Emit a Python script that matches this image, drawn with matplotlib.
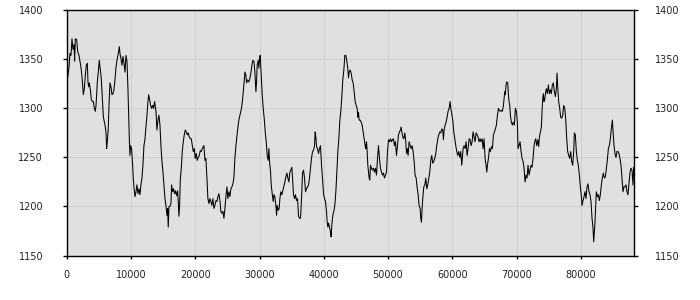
import matplotlib
matplotlib.use("Agg")
import matplotlib.pyplot as plt
import numpy as np

# ---- data ----
seg1_x = [0,150,360,510,670,820,980,1140,1240,1340,1550,1710,1910,2070,2220,2380,2480,2590,2740,2900,
          3050,3210,3310,3420,3520,3680,3830,3990,4140,4300,4450,4560,4660,4760,4920,5070,5180,5280,5390,5490,
          5590,5700,5800,5960,6110,6210,6320,6470,6580,6730,6890,7040,7200,7350,7510,7670,7820,7980,8190,8290,
          8440,8600,8750,8910,9070,9220,9380,9530,9640,9740,9840,9950,10100,10260,10360,10460,10620,10780,10930,11090,
          11240,11400,11550,11710,11860,12020,12180,12330,12490,12640,12750,12900,13060,13210,13370,13520,13680]
seg1_y = [1334,1331,1342,1356,1354,1371,1360,1365,1348,1371,1370,1358,1354,1348,1342,1332,1324,1314,1320,1334,
          1344,1346,1327,1322,1326,1319,1309,1307,1307,1300,1297,1303,1314,1327,1337,1349,1342,1337,1329,1317,
          1303,1292,1288,1283,1276,1259,1266,1280,1303,1326,1322,1314,1315,1319,1329,1342,1349,1354,1363,1356,
          1351,1344,1353,1346,1337,1354,1348,1320,1293,1269,1252,1262,1259,1242,1229,1220,1210,1215,1222,1213,
          1218,1212,1222,1229,1242,1262,1269,1280,1293,1307,1314,1309,1303,1300,1303,1300,1307]

seg2_x = [13890,14040,14200,14350,14510,14660,14820,14980,15130,15290,15440,15600,15700,15800,15910,16060,16220,16320,16480,16630,
          16790,16940,17100,17260,17360,17460,17570,17670,17830,17980,18140,18290,18450,18600,18760,18910,19070,19230,19380,19540,
          19690,19850,20000,20160,20310,20470,20630,20780,20940,21090,21250,21350,21510,21660,21820,21970,22130,22280,22440,22590,
          22750,22910,23060,23220,23370,23530,23680,23840,23990,24150,24300,24460,24620,24770,24930,25080,25240,25390,25550,25700,
          25860,26010,26170,26330,26480,26640,26790,26950,27100,27260,27410,27570,27730,27880,27980,28140,28300,28450]
seg2_y = [1297,1278,1288,1293,1283,1262,1246,1235,1222,1208,1201,1191,1198,1179,1200,1200,1203,1222,1215,1218,
          1213,1216,1211,1216,1205,1190,1201,1227,1239,1256,1266,1273,1278,1276,1273,1275,1271,1269,1269,1262,
          1256,1259,1249,1254,1247,1250,1252,1257,1256,1259,1261,1262,1247,1249,1229,1208,1203,1208,1205,1201,
          1208,1198,1201,1206,1205,1210,1213,1206,1195,1193,1195,1188,1198,1210,1220,1208,1215,1210,1218,1220,
          1223,1229,1249,1262,1271,1281,1288,1293,1297,1303,1312,1324,1337,1334,1326,1329,1327,1329]

seg3_x = [28660,28810,28970,29130,29280,29440,29540,29640,29800,29900,30010,30110,30210,30320,30420,30580,30730,30890,31040,31200,
          31350,31460,31560,31720,31820,31920,32030,32130,32240,32390,32550,32650,32750,32910,33060,33170,33320,33480,33630,33790,
          33950,34100,34260,34410,34570,34720,34880,35030,35140,35290,35450,35600,35760,35920,36070,36230,36380,36540,36690,36850,
          37000,37160,37310,37470,37630,37780,37940,38090,38250,38400,38560,38660,38770,38870,39030,39180,39340,39490,39650,39800,
          39960,40110,40270,40420,40530,40630,40740,40890,41050,41150,41250,41410,41560,41720,41880,42030,42190,42340,42500,42650,
          42810,42960,43120]
seg3_y = [1336,1344,1349,1348,1337,1317,1327,1344,1349,1341,1351,1354,1341,1327,1314,1300,1290,1276,1266,1252,
          1247,1259,1246,1235,1222,1216,1210,1205,1212,1210,1201,1191,1201,1196,1198,1208,1215,1212,1216,1220,
          1225,1230,1234,1229,1225,1235,1237,1240,1229,1212,1208,1212,1206,1208,1190,1188,1188,1208,1234,1237,
          1229,1215,1218,1220,1222,1229,1239,1249,1256,1257,1262,1276,1271,1261,1259,1254,1259,1262,1242,1229,
          1213,1208,1205,1195,1184,1179,1183,1179,1174,1169,1181,1191,1195,1201,1215,1235,1256,1269,1288,1297,
          1312,1329,1339]

seg4_x = [43280,43430,43590,43740,43850,43950,44110,44260,44420,44570,44730,44880,45040,45190,45300,45400,45510,45660,45820,45970,
          46130,46280,46440,46540,46650,46750,46850,46960,47060,47160,47270,47420,47580,47730,47890,48040,48200,48360,48510,48670,
          48820,48980,49130,49290,49440,49600,49760,49910,50070,50220,50380,50530,50690,50840,51000,51150,51310,51470,51620,51780,
          51930,52040,52140,52290,52450,52610,52760,52870,53020,53120,53280,53440,53590,53750,53900,54060,54210,54370,54520,54680,
          54830,54990,55090,55200,55300,55400,55560,55720,55870,56030,56180,56340,56490,56650,56800,56960,57120,57270,57430,57580,
          57740,57890]
seg4_y = [1354,1354,1348,1341,1331,1337,1339,1336,1329,1326,1317,1307,1303,1300,1291,1296,1288,1288,1286,1283,
          1276,1269,1262,1259,1266,1256,1242,1235,1229,1227,1242,1239,1237,1239,1235,1239,1232,1249,1262,1249,
          1239,1235,1232,1234,1229,1232,1235,1256,1268,1266,1269,1266,1268,1269,1262,1266,1252,1262,1273,1276,
          1278,1281,1276,1271,1269,1275,1266,1254,1259,1252,1266,1262,1259,1262,1256,1246,1232,1229,1220,1212,
          1201,1198,1188,1184,1198,1208,1220,1222,1229,1218,1222,1229,1235,1247,1252,1244,1246,1249,1254,1262,
          1269,1273]

seg5_x = [58050,58200,58360,58510,58620,58720,58880,59030,59190,59340,59500,59660,59760,59910,60070,60230,60380,60540,60690,60850,
          61000,61160,61310,61470,61570,61680,61830,61990,62140,62300,62450,62610,62770,62920,63080,63230,63390,63540,63700,63850,
          64010,64160,64320,64480,64630,64790,64940,65100,65250,65360,65460,65620,65770,65930,66080,66240,66390,66550,66700,66860,
          67020,67170,67330,67480,67640,67790,67950,68050,68160,68260,68360,68470,68620,68730,68830,68930,69040,69190,69350,69500,
          69660,69810,69970,70120,70230,70380,70540,70700,70850,71010,71160,71320,71470,71630,71780,71940,72090,72250,72410,72560,
          72720]
seg5_y = [1276,1275,1279,1278,1268,1278,1283,1286,1291,1297,1300,1307,1300,1295,1288,1276,1269,1262,1256,1252,
          1256,1250,1256,1242,1250,1259,1262,1259,1266,1252,1259,1269,1268,1262,1266,1276,1271,1266,1275,1273,
          1271,1266,1269,1266,1269,1259,1269,1249,1242,1235,1242,1249,1259,1256,1261,1259,1273,1276,1279,1283,
          1293,1300,1298,1297,1298,1297,1303,1310,1317,1314,1324,1327,1326,1314,1307,1303,1293,1286,1283,1286,
          1283,1300,1297,1286,1259,1262,1266,1256,1249,1246,1239,1225,1232,1229,1242,1232,1237,1242,1240,1249,
          1262]

seg6_x = [72820,72980,73130,73290,73440,73550,73700,73860,73960,74070,74170,74270,74380,74530,74640,74790,74950,75100,75260,75410,
          75570,75720,75880,76040,76190,76290,76400,76550,76710,76860,77020,77180,77330,77490,77640,77800,77950,78110,78260,78420,
          78570,78730,78890,78990,79140,79300,79460,79610,79770,79920,80080,80180,80340,80490,80650,80800,80960,81110,81270,81430,
          81580,81740,81890,82000,82100,82200,82310,82410,82570,82720,82880,83030,83190,83340,83500,83650,83810,83970,84120,84280,
          84430,84590,84740,84900,85000,85160,85310,85470,85620,85780,85930,86090,86250,86400,86560,86710,86870,87020,87180,87330,
          87490,87650,87800,87960,88110,88220]
seg6_y = [1266,1269,1262,1268,1261,1271,1276,1281,1297,1310,1315,1307,1309,1317,1320,1315,1324,1315,1319,1315,
          1324,1326,1317,1312,1320,1336,1322,1307,1300,1291,1290,1293,1303,1300,1290,1269,1256,1252,1249,1256,
          1246,1242,1256,1275,1273,1256,1247,1242,1232,1220,1210,1201,1206,1210,1215,1208,1220,1223,1215,1212,
          1205,1188,1178,1164,1174,1184,1201,1215,1210,1212,1206,1212,1222,1229,1234,1229,1230,1239,1247,1259,
          1262,1269,1279,1288,1278,1262,1254,1250,1256,1256,1254,1249,1242,1229,1215,1220,1220,1222,1215,1212,
          1223,1235,1239,1237,1222,1240]

x_ticks = [0, 10000, 20000, 30000, 40000, 50000, 60000, 70000, 80000]
y_ticks = [1150, 1200, 1250, 1300, 1350, 1400]

xs = seg1_x + seg2_x + seg3_x + seg4_x + seg5_x + seg6_x
ys = seg1_y + seg2_y + seg3_y + seg4_y + seg5_y + seg6_y

plt.rcParams['font.family'] = ['DejaVu Sans']
fig = plt.figure(figsize=(7, 3), dpi=100)
ax = fig.add_axes([66.7/700, 44.5/300, (634-66.7)/700, (255.5-10.3)/300])
ax.set_facecolor('#e0e0e0')
ax.plot(xs, ys, color='black', linewidth=0.75)
ax.set_xlim(0, 88270)
ax.set_ylim(1150, 1400)
ax.set_xticks(x_ticks)
ax.set_xticklabels([str(t) for t in x_ticks])
ax.set_yticks(y_ticks)
ax.set_yticklabels([str(t) for t in y_ticks])
ax.grid(True, color='#cfcfcf', linewidth=0.8)
ax.set_axisbelow(True)
for s in ax.spines.values():
    s.set_color('black')
    s.set_linewidth(1.0)
ax.tick_params(axis='y', direction='out', length=3, width=1, pad=14, labelsize=7, labelcolor='#222222')
ax.tick_params(axis='x', direction='out', length=2.5, width=1, pad=8, labelsize=7, labelcolor='#222222')

ax2 = ax.twinx()
ax2.set_ylim(1150, 1400)
ax2.set_yticks(y_ticks)
ax2.set_yticklabels([str(t) for t in y_ticks])
ax2.tick_params(axis='y', direction='out', length=3, width=1, pad=12, labelsize=7, labelcolor='#222222')
for s in ax2.spines.values():
    s.set_visible(False)

fig.savefig('out.png', dpi=100)
